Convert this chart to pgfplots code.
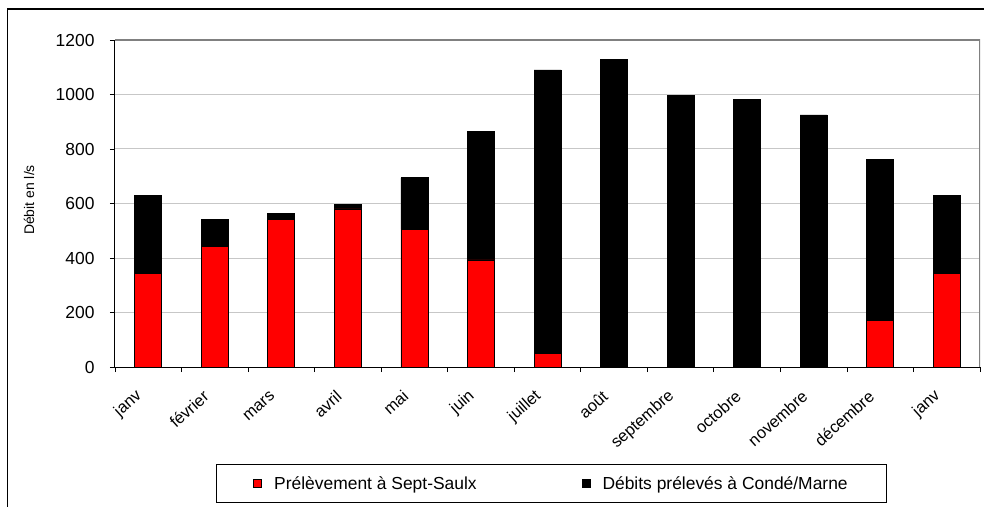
\documentclass[border=0pt]{standalone}
\usepackage{pgfplots}
\pgfplotsset{compat=1.18}
\usepackage{fontspec}
\setmainfont{Liberation Sans}
\definecolor{xlred}{RGB}{255,0,0}
\begin{document}
\begin{tikzpicture}
\begin{axis}[
  scale only axis, width=865bp, height=327bp,
  anchor=south west, at={(0,0)},
  ybar stacked, bar width=27bp,
  xmin=0.5, xmax=13.5, ymin=0, ymax=1200,
  ytick={0,200,...,1200},
  ymajorgrids, grid style={draw=black!22, line width=1bp},
  xtick={0.5,1.5,...,13.5}, xticklabels={},
  extra x ticks={1,2,...,13},
  extra x tick labels={janv,février,mars,avril,mai,juin,juillet,août,septembre,octobre,novembre,décembre,janv},
  extra x tick style={major tick length=0pt, grid=none,
     tick label style={font=\fontsize{16.5}{16.5}\selectfont, rotate=42, anchor=east, xshift=-21bp, yshift=-14bp}},
  axis x line*=bottom, axis y line*=left,
  axis line style={black, line width=1bp, -},
  tick style={black, line width=0.8bp},
  tick align=outside, major tick length=5bp,
  yticklabel style={font=\fontsize{17.5}{17.5}\selectfont, xshift=-12bp},
  /pgf/number format/assume math mode=true,
  /pgf/number format/set thousands separator={},
  ylabel={Débit en l/s},
  every axis y label/.style={at={(rel axis cs:-0.0994,0.5107)}, rotate=90, anchor=center,
     font=\fontsize{14}{14}\selectfont},
  legend columns=2,
  legend cell align=left,
  legend image code/.code={\draw[#1, line width=0.8bp] (0bp,-4bp) rectangle (8bp,4bp); \path (18bp,0bp);},
  legend style={at={(0.11676,-0.29664)}, anchor=north west, draw=black, line width=0.8bp,
     inner xsep=37bp, inner ysep=10bp, font=\fontsize{17.5}{17.5}\selectfont,
     /tikz/every even column/.append style={column sep=103bp}},
]
\addplot[fill=xlred, draw=black, line width=0.8bp] coordinates {
 (1,344) (2,444) (3,542) (4,580) (5,506) (6,393) (7,51) (8,0) (9,0) (10,0) (11,0) (12,172) (13,344)};
\addplot[fill=black, draw=black, line width=0.8bp] coordinates {
 (1,285) (2,98) (3,20) (4,16) (5,188) (6,473) (7,1039) (8,1129) (9,996) (10,983) (11,925) (12,588) (13,285)};
\legend{Prélèvement à Sept-Saulx, Débits prélevés à Condé/Marne}
\draw[black!50, line width=1.5bp] (rel axis cs:0,1) -- (rel axis cs:1,1) -- (rel axis cs:1,0);
\end{axis}
\draw[black, line width=1.5bp] (-107.5bp,-145bp) -- (-107.5bp,358bp) -- (875bp,358bp);
\pgfresetboundingbox
\path[use as bounding box] (-115bp,-140bp) rectangle (869bp,367bp);
\end{tikzpicture}
\end{document}
